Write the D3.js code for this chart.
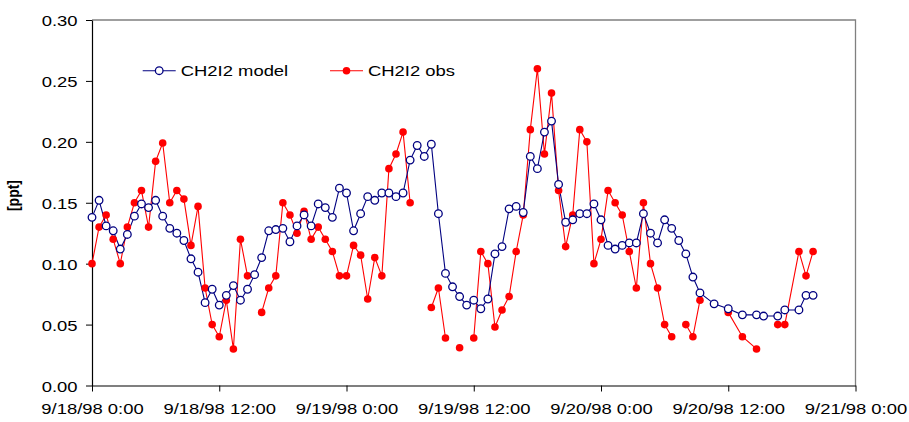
<!DOCTYPE html>
<html>
<head>
<meta charset="utf-8">
<script src="https://cdn.jsdelivr.net/npm/d3@7/dist/d3.min.js"></script>
<style>
  html, body { margin: 0; padding: 0; background: #fff; }
  svg { display: block; }
  text { font-family: "Liberation Sans", Arial, Helvetica, sans-serif; fill: #000; }
</style>
</head>
<body>
<svg id="chart" width="909" height="422"></svg>
<script>
// Sample times, minutes after 9/18/98 0:00
const minutes = [
  0, 40, 80, 120, 160, 200, 240, 280, 320, 360,
  400, 440, 480, 520, 560, 600, 640, 680, 720, 760,
  800, 840, 880, 920, 960, 1000, 1040, 1080, 1120, 1160,
  1200, 1240, 1280, 1320, 1360, 1400, 1440, 1480, 1520, 1560,
  1600, 1640, 1680, 1720, 1760, 1800, 1840, 1880, 1920, 1960,
  2000, 2040, 2080, 2120, 2160, 2200, 2240, 2280, 2320, 2360,
  2400, 2440, 2480, 2520, 2560, 2600, 2640, 2680, 2720, 2760,
  2800, 2840, 2880, 2920, 2960, 3000, 3040, 3080, 3120, 3160,
  3200, 3240, 3280, 3320, 3360, 3400, 3440, 3520, 3600, 3680,
  3760, 3800, 3880, 3920, 4000, 4040, 4080
];

// Modelled CH2I2 [ppt]
const modelValues = [
  0.138, 0.152, 0.131, 0.127, 0.112, 0.124, 0.139, 0.149, 0.146, 0.152,
  0.139, 0.129, 0.125, 0.119, 0.104, 0.093, 0.068, 0.079, 0.066, 0.074,
  0.082, 0.070, 0.079, 0.091, 0.105, 0.127, 0.128, 0.129, 0.118, 0.131,
  0.140, 0.131, 0.149, 0.146, 0.138, 0.162, 0.158, 0.127, 0.141, 0.155,
  0.152, 0.158, 0.158, 0.155, 0.158, 0.185, 0.197, 0.188, 0.198, 0.141,
  0.092, 0.081, 0.073, 0.066, 0.070, 0.063, 0.071, 0.108, 0.114, 0.145,
  0.147, 0.142, 0.188, 0.178, 0.208, 0.217, 0.165, 0.134, 0.136, 0.141,
  0.141, 0.149, 0.136, 0.115, 0.112, 0.115, 0.117, 0.117, 0.141, 0.125,
  0.117, 0.136, 0.129, 0.119, 0.108, 0.089, 0.076, 0.067, 0.063, 0.058,
  0.058, 0.057, 0.057, 0.062, 0.062, 0.074, 0.074
];

// Observed CH2I2 [ppt]; null where no measurement
const obsValues = [
  0.100, 0.130, 0.140, 0.120, 0.100, 0.130, 0.150, 0.160, 0.130, 0.184,
  0.199, 0.150, 0.160, 0.153, 0.115, 0.147, 0.080, 0.050, 0.040, 0.070,
  0.030, 0.120, 0.090, null, 0.060, 0.080, 0.090, 0.150, 0.140, 0.125,
  0.143, 0.120, 0.130, 0.120, 0.110, 0.090, 0.090, 0.115, 0.107, 0.071,
  0.105, 0.090, 0.178, 0.190, 0.208, 0.150, null, null, 0.064, 0.080,
  0.039, null, 0.031, null, 0.039, 0.110, 0.100, 0.048, 0.062, 0.073,
  0.110, 0.140, 0.210, 0.260, 0.190, 0.240, 0.160, 0.114, 0.140, 0.210,
  0.200, 0.100, 0.120, 0.160, 0.150, 0.140, 0.110, 0.080, 0.150, 0.100,
  0.080, 0.050, 0.040, null, 0.050, 0.040, 0.070, null, 0.060, 0.040,
  0.030, null, 0.050, 0.050, 0.110, 0.090, 0.110
];

const yTicks = [0, 0.05, 0.10, 0.15, 0.20, 0.25, 0.30];
const xTickLabels = ["9/18/98 0:00", "9/18/98 12:00", "9/19/98 0:00", "9/19/98 12:00",
                     "9/20/98 0:00", "9/20/98 12:00", "9/21/98 0:00"];
const seriesNames = ["CH2I2 model", "CH2I2 obs"];

const start = new Date(1998, 8, 18, 0, 0);
const end = new Date(1998, 8, 21, 0, 0);
const times = minutes.map(m => new Date(start.getTime() + m * 60000));
const xTickDates = xTickLabels.map((_, i) => new Date(start.getTime() + i * 12 * 3600000));

const svg = d3.select("#chart");
const plotL = 92, plotR = 855.5, plotT = 20, plotB = 385.5;
const stretch = 1.19;   // text is drawn slightly widened

const x = d3.scaleTime().domain([start, end]).range([plotL, plotR]);
const y = d3.scaleLinear().domain([0, 0.30]).range([plotB, plotT]);

// plot frame: grey top and right edges
svg.append("path")
  .attr("d", `M${plotL},${plotT}H${plotR}V${plotB}`)
  .attr("fill", "none").attr("stroke", "#808080").attr("stroke-width", 1.3);

// y axis
const yAxis = svg.append("g")
  .attr("transform", `translate(${plotL},0)`)
  .call(d3.axisLeft(y).tickValues(yTicks).tickFormat(d3.format(".2f")).tickSize(6).tickSizeOuter(0));
yAxis.selectAll("path.domain").attr("stroke", "#000").attr("stroke-width", 1.2);
yAxis.selectAll(".tick line").attr("stroke", "#000");
yAxis.selectAll(".tick text")
  .attr("x", null).attr("dy", null)
  .attr("transform", `translate(-14.5,5.6) scale(${stretch},1)`)
  .attr("text-anchor", "end")
  .style("font-size", "15.5px");

// x axis
const xAxis = svg.append("g")
  .attr("transform", `translate(0,${plotB})`)
  .call(d3.axisBottom(x).tickValues(xTickDates).tickFormat((d, i) => xTickLabels[i]).tickSize(6).tickSizeOuter(0));
xAxis.selectAll("path.domain").attr("stroke", "#000").attr("stroke-width", 1.2);
xAxis.selectAll(".tick line").attr("stroke", "#000");
xAxis.selectAll(".tick text")
  .attr("y", null).attr("dy", null)
  .attr("transform", `translate(0,28) scale(${stretch},1)`)
  .attr("text-anchor", "middle")
  .style("font-size", "15.5px");
svg.selectAll(".tick text").attr("fill", "#000");
svg.selectAll("g").attr("font-family", null).attr("font-size", null);

// y axis title
svg.append("text")
  .attr("transform", `translate(19,195.5) scale(${stretch},1) rotate(-90)`)
  .attr("text-anchor", "middle")
  .style("font-size", "14px").style("font-weight", "bold")
  .text("[ppt]");

// series
const modelData = times.map((t, i) => ({ t, v: modelValues[i] }));
const obsData = times.map((t, i) => ({ t, v: obsValues[i] }));

const line = d3.line()
  .defined(d => d.v !== null)
  .x(d => x(d.t)).y(d => y(d.v));

const modelColor = "#000080", obsColor = "#ff0000";

svg.append("path").datum(obsData)
  .attr("d", line).attr("fill", "none").attr("stroke", obsColor).attr("stroke-width", 1.1);
svg.append("path").datum(modelData)
  .attr("d", line).attr("fill", "none").attr("stroke", modelColor).attr("stroke-width", 1.1);

svg.append("g").selectAll("circle")
  .data(obsData.filter(d => d.v !== null)).join("circle")
  .attr("cx", d => x(d.t)).attr("cy", d => y(d.v)).attr("r", 3.8)
  .attr("fill", obsColor);

svg.append("g").selectAll("circle")
  .data(modelData).join("circle")
  .attr("cx", d => x(d.t)).attr("cy", d => y(d.v)).attr("r", 3.8)
  .attr("fill", "#fff").attr("stroke", modelColor).attr("stroke-width", 1.3);

// legend
const legend = [
  { name: seriesNames[0], color: modelColor, open: true, x0: 142.7 },
  { name: seriesNames[1], color: obsColor, open: false, x0: 330 }
];
const ly = 70.7;
legend.forEach(l => {
  const g = svg.append("g");
  g.append("line").attr("x1", l.x0).attr("x2", l.x0 + 33).attr("y1", ly).attr("y2", ly)
    .attr("stroke", l.color).attr("stroke-width", 1.1);
  g.append("circle").attr("cx", l.x0 + 16.5).attr("cy", ly).attr("r", 3.8)
    .attr("fill", l.open ? "#fff" : l.color)
    .attr("stroke", l.open ? l.color : "none").attr("stroke-width", 1.3);
  g.append("text")
    .attr("transform", `translate(${l.x0 + 38},${ly + 5.2}) scale(${stretch},1)`)
    .style("font-size", "15.5px")
    .text(l.name);
});
</script>
</body>
</html>
